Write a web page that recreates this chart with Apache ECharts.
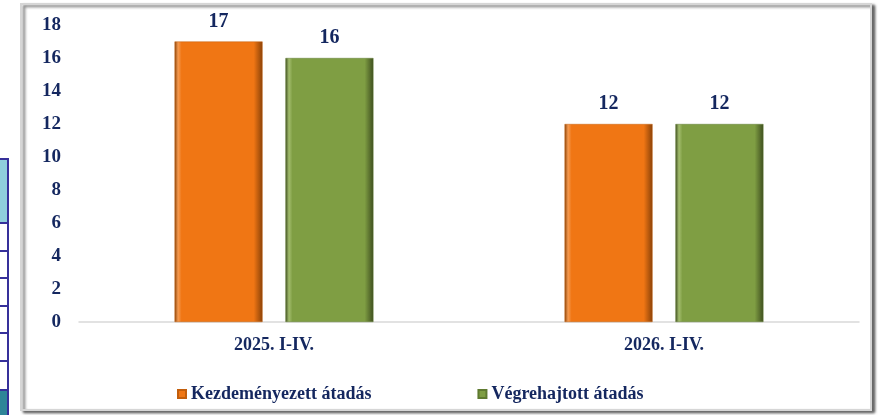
<!DOCTYPE html>
<html>
<head>
<meta charset="utf-8">
<script src="https://cdn.jsdelivr.net/npm/echarts@6/dist/echarts.min.js"></script>
<style>
  html, body { margin: 0; padding: 0; background: #fff; }
  #chart { width: 881px; height: 415px; }
</style>
</head>
<body>
<div id="chart"></div>
<script>
const categories = ['2025. I-IV.', '2026. I-IV.'];
const seriesNames = ['Kezdeményezett átadás', 'Végrehajtott átadás'];
const initiated = [17, 12];
const executed = [16, 12];

const textColor = '#14275f';
const font = 'Liberation Serif, Times New Roman, serif';

function bevel(base, dark, light) {
    return {
        type: 'linear', x: 0, y: 0, x2: 1, y2: 0,
        colorStops: [
            { offset: 0, color: dark },
            { offset: 0.04, color: light },
            { offset: 0.08, color: base },
            { offset: 0.9, color: base },
            { offset: 1, color: dark }
        ]
    };
}

const chart = echarts.init(document.getElementById('chart'));
chart.setOption({
    animation: false,
    grid: { left: 79, right: 22, top: 25, bottom: 93 },
    legend: {
        data: seriesNames,
        left: 172,
        top: 380,
        icon: 'rect',
        itemWidth: 8,
        itemHeight: 8,
        itemGap: 106,
        textStyle: { color: textColor, fontFamily: font, fontWeight: 'bold', fontSize: 18 }
    },
    xAxis: {
        type: 'category',
        data: categories,
        axisLine: { lineStyle: { color: '#d9d9d9', width: 1.5 } },
        axisTick: { show: false },
        axisLabel: { color: textColor, fontFamily: font, fontWeight: 'bold', fontSize: 18, margin: 14 }
    },
    yAxis: {
        type: 'value',
        min: 0,
        max: 18,
        interval: 2,
        axisLine: { show: false },
        axisTick: { show: false },
        splitLine: { show: false },
        axisLabel: { color: textColor, fontFamily: font, fontWeight: 'bold', fontSize: 19, margin: 18 }
    },
    series: [
        {
            name: seriesNames[0],
            type: 'bar',
            data: initiated,
            barWidth: 88,
            barGap: '26%',
            itemStyle: {
                color: bevel('#f07614', '#8a4208', '#f59a50'),
                borderColor: '#c25e0c',
                borderWidth: 0.5
            },
            label: { show: true, position: 'top', distance: 10, color: textColor, fontFamily: font, fontWeight: 'bold', fontSize: 20 }
        },
        {
            name: seriesNames[1],
            type: 'bar',
            data: executed,
            barWidth: 88,
            itemStyle: {
                color: bevel('#7f9e43', '#3e4e1f', '#a3bd6d'),
                borderColor: '#5f7a30',
                borderWidth: 0.5
            },
            label: { show: true, position: 'top', distance: 10, color: textColor, fontFamily: font, fontWeight: 'bold', fontSize: 20 }
        }
    ],
    graphic: [
        // chart frame
        {
            type: 'rect', z: -10, silent: true,
            shape: { x: 21, y: 4, width: 850, height: 406 },
            style: {
                fill: '#fff', stroke: '#d6d6d6', lineWidth: 2,
                shadowBlur: 3, shadowOffsetX: 3, shadowOffsetY: 2, shadowColor: 'rgba(0,0,0,0.6)'
            }
        },
        // fragment of a neighbouring table at the left edge
        { type: 'rect', silent: true, shape: { x: 0, y: 160, width: 7, height: 62 }, style: { fill: '#8fcfdc' } },
        { type: 'rect', silent: true, shape: { x: 0, y: 391, width: 7, height: 24 }, style: { fill: '#2e8598' } },
        { type: 'rect', silent: true, shape: { x: 7, y: 158, width: 2, height: 257 }, style: { fill: '#36309a' } },
        { type: 'rect', silent: true, shape: { x: 0, y: 158, width: 9, height: 2 }, style: { fill: '#36309a' } },
        { type: 'rect', silent: true, shape: { x: 0, y: 222, width: 9, height: 2 }, style: { fill: '#36309a' } },
        { type: 'rect', silent: true, shape: { x: 0, y: 250, width: 9, height: 2 }, style: { fill: '#36309a' } },
        { type: 'rect', silent: true, shape: { x: 0, y: 277, width: 9, height: 2 }, style: { fill: '#36309a' } },
        { type: 'rect', silent: true, shape: { x: 0, y: 305, width: 9, height: 2 }, style: { fill: '#36309a' } },
        { type: 'rect', silent: true, shape: { x: 0, y: 332, width: 9, height: 2 }, style: { fill: '#36309a' } },
        { type: 'rect', silent: true, shape: { x: 0, y: 360, width: 9, height: 2 }, style: { fill: '#36309a' } },
        { type: 'rect', silent: true, shape: { x: 0, y: 389, width: 9, height: 2 }, style: { fill: '#36309a' } }
    ]
});
</script>
</body>
</html>
